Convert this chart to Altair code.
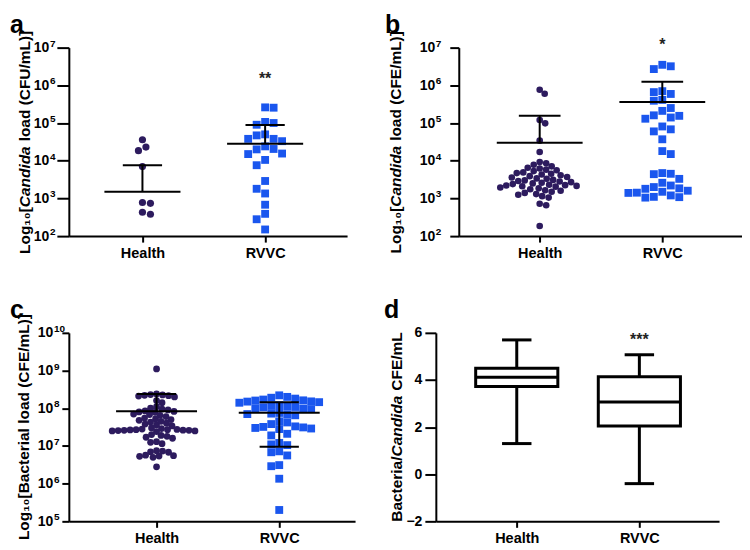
import math
import altair as alt
import pandas as pd

FONT = "Liberation Sans"
PURPLE = "#2d1b5e"
BLUE = "#1a56ee"
GROUPS = ["Health", "RVVC"]

# ---------------- data ----------------
A_HEALTH = [36000, 23000, 18500, 7000, 740, 780, 380, 430]
A_RVVC = [260000, 255000, 90000, 107000, 100000, 38000, 47000, 50000, 38000,
          33000, 15000, 24000, 15500, 20000, 20500, 7600, 10500, 2900, 1800,
          1350, 680, 390, 280, 150]
A_MEAN = [1500, 28000]
A_UPPER = [7600, 89000]
A_LOWER = [None, None]

B_HEALTH = [760000, 600000, 120000, 98000, 34000, 17000,
            9200, 8600, 7800, 7100, 6500, 6200, 5800, 5600, 5300,
            4900, 4700, 4500, 4300, 4100, 3900, 3700, 3600, 3400, 3300,
            3100, 3000, 2900, 2800, 2700, 2600, 2500, 2400, 2300, 2250,
            2200, 2150, 2100, 2050, 1950, 1850, 1750, 1650, 1600,
            1500, 1400, 1300, 1250, 1150, 1050, 720, 660, 185]
B_RVVC = [3.5e6, 3.2e6, 2.7e6, 6.6e5, 4.1e5, 7.0e5, 3.9e5, 5.9e5, 2.5e5,
          1.55e5, 2.1e5, 1.4e5, 1.6e5, 1.3e5, 6.8e4, 8.1e4, 6.0e4, 3.7e4,
          1.8e4, 1.5e4, 3300, 4500, 4400, 4700, 2600, 1800, 1600, 1050,
          1400, 1500, 1850, 1080, 1420, 2000, 1100, 2200, 1200]
B_MEAN = [30000, 360000]
B_UPPER = [155000, 1.25e6]
B_LOWER = [None, None]

C_HEALTH = [1.1e9,
            2.3e8, 2.2e8, 2.1e8, 2.0e8, 2.25e8, 2.4e8, 2.15e8,
            1.6e8, 1.4e8,
            1.1e8, 9.5e7, 8.5e7, 8.2e7, 8.0e7, 7.8e7, 9.0e7, 1.0e8,
            6.5e7, 6.0e7, 5.5e7, 5.2e7, 5.0e7, 4.8e7, 7.0e7, 6.8e7,
            4.0e7, 3.8e7, 3.6e7, 4.3e7, 4.5e7, 3.4e7,
            2.7e7, 2.6e7, 2.5e7, 2.65e7, 2.8e7, 2.4e7, 2.75e7, 2.55e7,
            2.6e7, 2.9e7, 2.5e7, 2.7e7, 3.0e7, 2.62e7,
            1.9e7, 1.8e7, 1.7e7, 2.0e7, 1.6e7,
            1.25e7, 1.15e7, 1.3e7,
            7.5e6, 7.0e6, 6.8e6, 7.3e6,
            5.5e6, 5.3e6, 5.0e6, 5.7e6, 5.4e6,
            2.8e6]
C_RVVC = [2.0e8, 2.2e8, 1.6e8, 1.5e8, 1.7e8, 1.4e8, 1.52e8, 1.62e8, 1.45e8,
          1.9e8, 1.8e8,
          1.1e8, 1.05e8, 1.0e8, 9.5e7, 1.2e8, 1.15e8, 9.8e7, 1.08e8,
          7.0e7, 7.5e7, 6.5e7, 7.2e7, 6.8e7,
          4.5e7, 4.2e7, 3.8e7,
          3.2e7, 3.0e7, 2.8e7, 3.1e7, 2.9e7, 3.3e7,
          1.9e7, 2.1e7,
          1.2e7, 1.05e7, 1.1e7, 7.2e6, 6.8e6,
          5.6e6, 3.1e6, 2.9e6, 1.35e6, 2.0e5]
C_MEAN = [8.3e7, 7.6e7]
C_UPPER = [2.4e8, 1.45e8]
C_LOWER = [None, 9.5e6]

D_MIN = [1.3, -0.4]
D_Q1 = [3.72, 2.05]
D_MEDIAN = [4.12, 3.07]
D_Q3 = [4.5, 4.14]
D_MAX = [5.7, 5.07]

# ---------------- geometry / style ----------------
H = 189
TFS = 15.5  # axis title font size
GAP = 5     # gap between the italic word and the following text
LETTER_Y = -35


def swarm(values, lo, hi, diam, ppu, square=False):
    ys = [H * (1 - (math.log10(v) - lo) / (hi - lo)) for v in values]
    order = sorted(range(len(values)), key=lambda i: ys[i])
    placed, offs = [], [0.0] * len(values)

    def clash(c, y):
        for px, py in placed:
            if square:
                if abs(c - px) < diam and abs(y - py) < diam:
                    return True
            elif (c - px) ** 2 + (y - py) ** 2 < diam ** 2:
                return True
        return False

    for n, i in enumerate(order):
        y = ys[i]
        k, found = 0, None
        while found is None:
            if k == 0:
                cands = [0.0]
            else:
                cands = [k * 0.5, -k * 0.5] if n % 2 else [-k * 0.5, k * 0.5]
            for c in cands:
                if not clash(c, y):
                    found = c
                    break
            k += 1
        placed.append((found, y))
        offs[i] = found / ppu
    return offs


def x_enc(field, dom):
    return alt.X(field, type="quantitative",
                 scale=alt.Scale(domain=dom, nice=False, zero=False),
                 axis=alt.Axis(values=[0, 1], title=None, tickSize=6, labelPadding=4,
                               labelFontSize=14.5,
                               labelExpr="datum.value == 0 ? 'Health' : 'RVVC'"))


def y_log(field, lo, hi, tick, pad):
    exps = list(range(lo, hi + 1))
    return alt.Y(field, type="quantitative",
                 scale=alt.Scale(type="log", domain=[10 ** lo, 10 ** hi], nice=False),
                 axis=alt.Axis(values=[10 ** e for e in exps], title=None, tickSize=tick,
                               labelPadding=pad, labelFontSize=14, labelExpr="'10'"))


def text_layer(text, x, y, size=TFS, style="normal", align="center", baseline="middle",
               angle=0):
    props = dict(text=text, align=align, baseline=baseline, font=FONT,
                 fontWeight="bold", fontSize=size, fontStyle=style, color="black")
    if angle:
        props["angle"] = angle
    return alt.Chart(pd.DataFrame({"k": [0]})).mark_text(**props).encode(
        x=alt.value(x), y=alt.value(y))


def title_layers(parts, widths, tx):
    total = sum(widths) + GAP
    if len(parts) == 1:
        return [text_layer(parts[0], tx, H / 2, angle=270)]
    y0 = H / 2 + total / 2 - widths[0]
    return [
        text_layer(parts[0], tx, y0, align="right", angle=270),
        text_layer(parts[1], tx, y0, align="left", style="italic", angle=270),
        text_layer(parts[2], tx, y0 - widths[1] - GAP, align="left", angle=270),
    ]


def scatter_panel(W, dom, letter, lx, parts, widths, tx, health, rvvc, means, uppers, lowers,
                  lo, hi, tick, pad, hsize, rsize, hdiam, rdiam, mean_hw, cap_hw,
                  star, star_val):
    ppu = W / (dom[1] - dom[0])
    X = lambda f: x_enc(f, dom)
    Y = lambda f: y_log(f, lo, hi, tick, pad)
    hoff = swarm(health, lo, hi, hdiam, ppu)
    roff = swarm(rvvc, lo, hi, rdiam, ppu, square=True)
    hdf = pd.DataFrame({"v": health, "x": [0 + o for o in hoff]})
    rdf = pd.DataFrame({"v": rvvc, "x": [1 + o for o in roff]})
    sdf = pd.DataFrame({"g": [0, 1], "mean": means, "upper": uppers,
                        "lower": [l if l is not None else float("nan") for l in lowers]})
    edf = pd.DataFrame({"v": [10 ** e for e in range(lo, hi + 1)],
                        "t": [str(e) for e in range(lo, hi + 1)]})

    pts_h = alt.Chart(hdf).mark_point(shape="circle", filled=True, size=hsize, opacity=1,
                                      color=PURPLE).encode(x=X("x"), y=Y("v"))
    pts_r = alt.Chart(rdf).mark_point(shape="square", filled=True, size=rsize, opacity=1,
                                      color=BLUE).encode(x=X("x"), y=Y("v"))
    base = alt.Chart(sdf).transform_calculate(
        m1=f"datum.g - {mean_hw}", m2=f"datum.g + {mean_hw}",
        c1=f"datum.g - {cap_hw}", c2=f"datum.g + {cap_hw}",
        lo_end="isValid(datum.lower) ? datum.lower : datum.mean")
    mean_rule = base.mark_rule(color="black", strokeWidth=2).encode(
        x=X("m1"), x2="m2:Q", y=Y("mean"))
    vert = base.mark_rule(color="black", strokeWidth=2).encode(
        x=X("g"), y=Y("lo_end"), y2="upper:Q")
    ucap = base.mark_rule(color="black", strokeWidth=2).encode(
        x=X("c1"), x2="c2:Q", y=Y("upper"))
    lcap = base.transform_filter("isValid(datum.lower)").mark_rule(
        color="black", strokeWidth=2).encode(x=X("c1"), x2="c2:Q", y=Y("lower"))
    # exponents of the 10^n tick labels
    exps = alt.Chart(edf).mark_text(
        font=FONT, fontWeight="bold", fontSize=10, color="black", align="left",
        baseline="alphabetic", dy=-1).encode(
        x=alt.value(-(tick + pad) + 1), y=Y("v"), text="t:N")
    layers = [pts_h, pts_r, mean_rule, vert, ucap, lcap, exps]
    if star:
        layers.append(alt.Chart(pd.DataFrame({"g": [1], "v": [star_val], "t": [star]})).mark_text(
            font=FONT, fontWeight="bold", fontSize=16, color="#222222", baseline="middle").encode(
            x=X("g"), y=Y("v"), text="t:N"))
    layers.append(text_layer(letter, lx, LETTER_Y, size=25, align="left", baseline="top"))
    layers += title_layers(parts, widths, tx)
    return alt.layer(*layers).properties(width=W, height=H)


def box_panel(W, dom):
    X = lambda f: x_enc(f, dom)
    bdf = pd.DataFrame({"g": [0, 1], "mn": D_MIN, "q1": D_Q1, "md": D_MEDIAN,
                        "q3": D_Q3, "mx": D_MAX})

    def y_lin(field):
        return alt.Y(field, type="quantitative",
                     scale=alt.Scale(domain=[-2, 6], nice=False, zero=False),
                     axis=alt.Axis(values=[-2, 0, 2, 4, 6], title=None, tickSize=11,
                                   labelPadding=3, labelFontSize=14))

    base = alt.Chart(bdf).transform_calculate(
        b1="datum.g - 0.335", b2="datum.g + 0.335",
        c1="datum.g - 0.12", c2="datum.g + 0.12")
    sw = 3
    w_lo = base.mark_rule(color="black", strokeWidth=sw).encode(
        x=X("g"), y=y_lin("mn"), y2="q1:Q")
    w_hi = base.mark_rule(color="black", strokeWidth=sw).encode(
        x=X("g"), y=y_lin("q3"), y2="mx:Q")
    box = base.mark_bar(fill="white", stroke="black", strokeWidth=sw).encode(
        x=X("b1"), x2="b2:Q", y=y_lin("q1"), y2="q3:Q")
    med = base.mark_rule(color="black", strokeWidth=sw).encode(
        x=X("b1"), x2="b2:Q", y=y_lin("md"))
    cap_lo = base.mark_rule(color="black", strokeWidth=sw).encode(
        x=X("c1"), x2="c2:Q", y=y_lin("mn"))
    cap_hi = base.mark_rule(color="black", strokeWidth=sw).encode(
        x=X("c1"), x2="c2:Q", y=y_lin("mx"))
    star_l = alt.Chart(pd.DataFrame({"g": [1], "v": [5.68], "t": ["***"]})).mark_text(
        font=FONT, fontWeight="bold", fontSize=16, color="#222222", baseline="middle").encode(
        x=X("g"), y=y_lin("v"), text="t:N")
    letter_l = text_layer("d", -52, LETTER_Y, size=25, align="left", baseline="top")
    layers = [w_lo, w_hi, box, med, cap_lo, cap_hi, star_l, letter_l] + \
        title_layers(["Bacteria/", "Candida", "CFE/mL"], [65, 61, 58], -39)
    return alt.layer(*layers).properties(width=W, height=H)


# a and c share the first column (plot origin ~69 px); b ~461 px, d ~437 px
pa = scatter_panel(279, [-0.60, 1.668], "a", -59,
                   ["Log₁₀[", "Candida", "load (CFU/mL)]"], [46, 61, 111], -44,
                   A_HEALTH, A_RVVC, A_MEAN, A_UPPER, A_LOWER, 2, 7, 12, 8, 52, 62, 8.0, 8.2,
                   0.31, 0.16, "**", 10 ** 6.18)
pb = scatter_panel(284, [-0.66, 1.65], "b", -74,
                   ["Log₁₀[", "Candida", "load (CFE/mL)]"], [46, 61, 110], -63,
                   B_HEALTH, B_RVVC, B_MEAN, B_UPPER, B_LOWER, 2, 7, 9, 15, 44, 62, 6.3, 8.4,
                   0.35, 0.17, "*", 10 ** 7.08)
pc = scatter_panel(287, [-0.715, 1.618], "c", -59,
                   ["Log₁₀[Bacterial load (CFE/mL)]"], [225], -45,
                   C_HEALTH, C_RVVC, C_MEAN, C_UPPER, C_LOWER, 5, 10, 7, 9, 46, 62, 5.8, 7.6,
                   0.33, 0.16, "", 10 ** 9.9)
pd_ = box_panel(284, [-0.66, 1.65])

chart = alt.vconcat(
    alt.hconcat(pa, pb, spacing=38),
    alt.hconcat(pc, pd_, spacing=29),
    spacing=38,
).properties(padding={"left": 2, "top": 4, "right": 0, "bottom": 0}).configure_view(
    stroke=None).configure_axis(
    domainColor="black", domainWidth=2, tickColor="black", tickWidth=2,
    labelColor="black", labelFont=FONT, labelFontWeight="bold", grid=False,
)

chart.save("out.html", embed_options={"renderer": "svg", "actions": False})
